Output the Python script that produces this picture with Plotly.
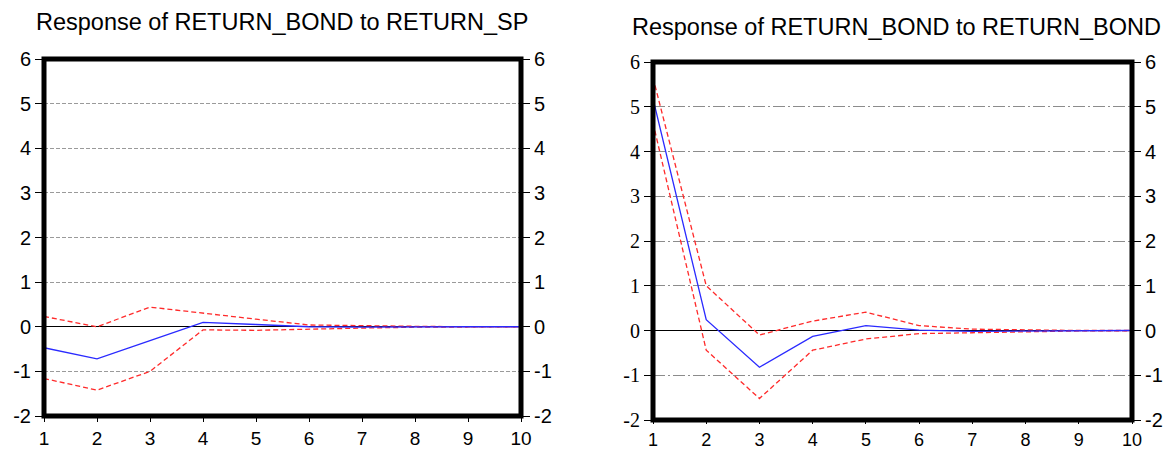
import plotly.graph_objects as go

# Forecast horizon (periods)
periods = [1, 2, 3, 4, 5, 6, 7, 8, 9, 10]

# Response of RETURN_BOND to a RETURN_SP shock, with +/- 2 S.E. bands
sp_resp = [-0.47, -0.72, -0.31, 0.10, 0.05, 0.00, -0.01, 0.00, 0.00, 0.00]
sp_upper = [0.23, 0.00, 0.44, 0.30, 0.17, 0.04, 0.02, 0.01, 0.00, 0.00]
sp_lower = [-1.16, -1.42, -1.00, -0.07, -0.08, -0.05, -0.03, -0.01, 0.00, 0.00]

# Response of RETURN_BOND to its own shock, with +/- 2 S.E. bands
bond_resp = [5.18, 0.24, -0.82, -0.13, 0.11, 0.01, -0.02, -0.01, 0.00, 0.00]
bond_upper = [5.65, 1.00, -0.10, 0.21, 0.41, 0.11, 0.03, 0.01, 0.00, 0.00]
bond_lower = [4.64, -0.44, -1.52, -0.44, -0.19, -0.07, -0.05, -0.03, -0.01, -0.01]

titles = ["Response of RETURN_BOND to RETURN_SP",
          "Response of RETURN_BOND to RETURN_BOND"]
y_ticks = [-2, -1, 0, 1, 2, 3, 4, 5, 6]

W, H = 1168, 450
BLUE = "#2a2aff"
RED = "#ff2a2a"

fig = go.Figure()

panels = [
    dict(resp=sp_resp, up=sp_upper, lo=sp_lower, x="x", y="y", y2="y3",
         xdom=[44 / W, 521 / W], ydom=[1 - 416 / H, 1 - 59 / H],
         grid_dash="4px,2px", grid_color="#9a9a9a", lfont="Liberation Sans",
         xlen=5, xsize=19),
    dict(resp=bond_resp, up=bond_upper, lo=bond_lower, x="x2", y="y2", y2="y4",
         xdom=[653 / W, 1132 / W], ydom=[1 - 420 / H, 1 - 62 / H],
         grid_dash="12px,3px,2px,3px", grid_color="#8c8c8c", lfont="Liberation Serif",
         xlen=3, xsize=18),
]

for p in panels:
    fig.add_trace(go.Scatter(x=periods, y=p["up"], xaxis=p["x"], yaxis=p["y"], mode="lines",
                             line=dict(color=RED, width=1.3, dash="5px,3px"), showlegend=False))
    fig.add_trace(go.Scatter(x=periods, y=p["lo"], xaxis=p["x"], yaxis=p["y"], mode="lines",
                             line=dict(color=RED, width=1.3, dash="5px,3px"), showlegend=False))
    fig.add_trace(go.Scatter(x=periods, y=p["resp"], xaxis=p["x"], yaxis=p["y"], mode="lines",
                             line=dict(color=BLUE, width=1.3), showlegend=False))
    # invisible trace so the right-hand value axis is rendered
    fig.add_trace(go.Scatter(x=periods, y=p["resp"], xaxis=p["x"], yaxis=p["y2"], mode="lines",
                             line=dict(width=0), opacity=0, hoverinfo="skip", showlegend=False))

tick_style = dict(ticks="outside", tickwidth=1, tickcolor="black",
                  showline=False, automargin=False)

layout = dict(template="none", width=W, height=H, margin=dict(l=0, r=0, t=0, b=0),
              paper_bgcolor="white", plot_bgcolor="white", showlegend=False)

for i, p in enumerate(panels):
    xa = "xaxis" if i == 0 else "xaxis2"
    ya = "yaxis" if i == 0 else "yaxis2"
    ya2 = "yaxis3" if i == 0 else "yaxis4"
    yname = p["y"]
    layout[xa] = dict(domain=p["xdom"], anchor=yname, range=[1, 10], tickmode="array",
                      tickvals=periods, ticktext=[str(v) for v in periods], showgrid=False,
                      zeroline=False, ticklen=p["xlen"],
                      tickfont=dict(family="Liberation Sans", size=p["xsize"], color="black"),
                      **tick_style)
    layout[ya] = dict(domain=p["ydom"], anchor=p["x"], range=[-2, 6], tickmode="array",
                      tickvals=y_ticks, ticktext=[str(v) for v in y_ticks],
                      showgrid=True, gridcolor=p["grid_color"], gridwidth=1,
                      griddash=p["grid_dash"], ticklen=8,
                      zeroline=True, zerolinecolor="black", zerolinewidth=1.2,
                      tickfont=dict(family=p["lfont"], size=20, color="black"),
                      **tick_style)
    layout[ya2] = dict(domain=p["ydom"], anchor=p["x"], overlaying=yname, side="right",
                       range=[-2, 6], tickmode="array", tickvals=y_ticks,
                       ticktext=[str(v) for v in y_ticks], showgrid=False, zeroline=False,
                       ticklen=8,
                       tickfont=dict(family="Liberation Sans", size=20, color="black"),
                       **tick_style)

fig.update_layout(**layout)

# heavy frames round each panel
for p in panels:
    fig.add_shape(type="rect", xref=p["x"] + " domain", yref=p["y"] + " domain",
                  x0=0, x1=1, y0=0, y1=1,
                  line=dict(color="black", width=5), layer="above")

# panel titles
title_pos = [(282 / W, 1 - 22 / H), (896 / W, 1 - 27 / H)]
for t, (tx, ty) in zip(titles, title_pos):
    fig.add_annotation(text=t, xref="paper", yref="paper", x=tx, y=ty, showarrow=False,
                       xanchor="center", yanchor="middle",
                       font=dict(family="Liberation Sans", size=23.5, color="black"))

fig.write_html("out.html")
